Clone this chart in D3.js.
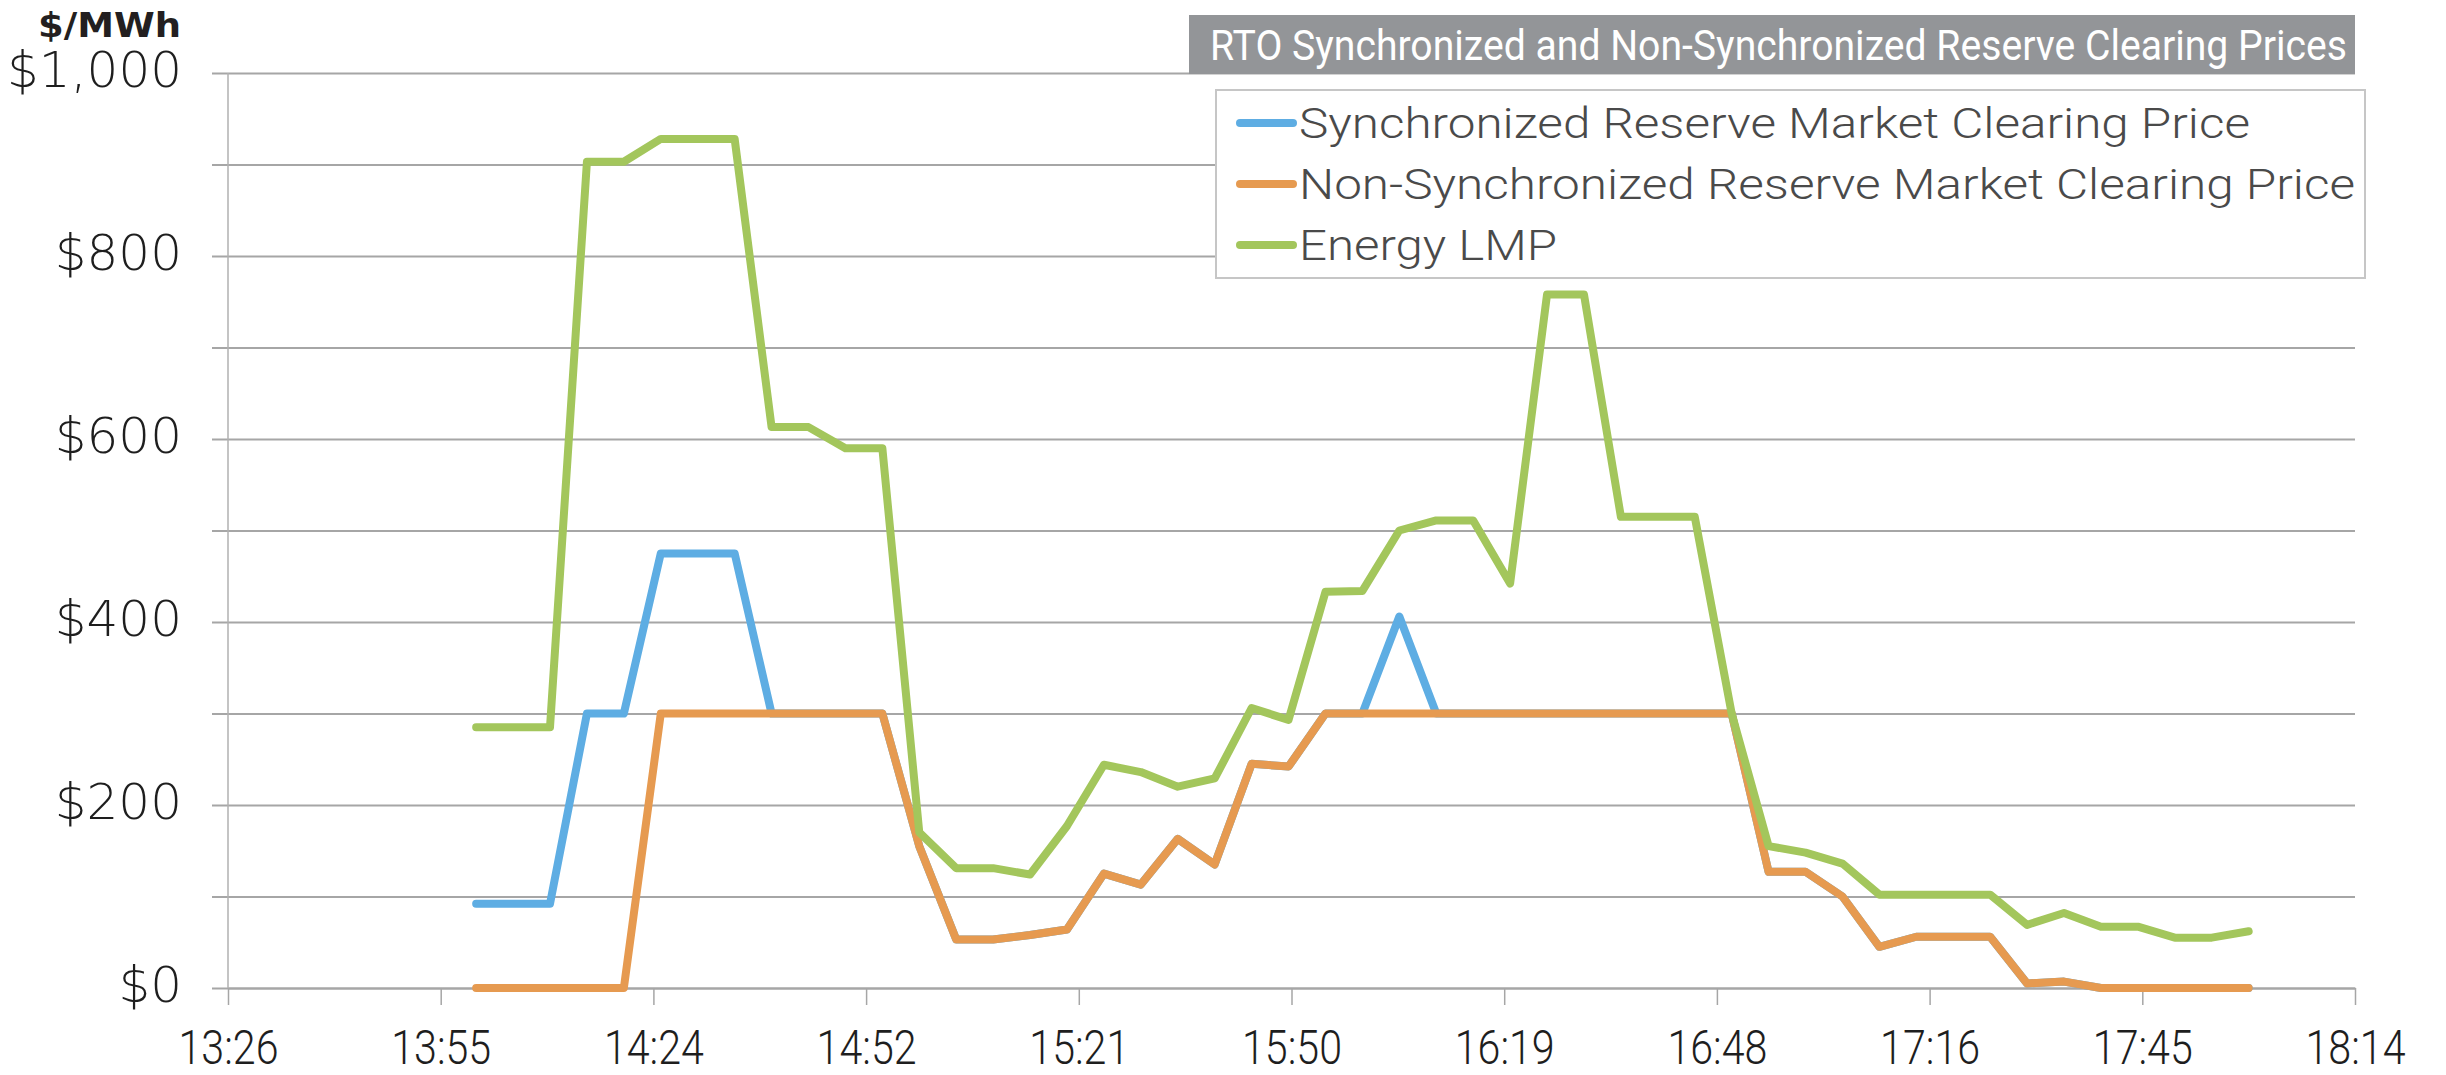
<!DOCTYPE html>
<html>
<head>
<meta charset="utf-8">
<script src="https://cdn.jsdelivr.net/npm/d3@7"></script>
<style>
  body { margin: 0; background: #fff; }
  svg { display: block; }
</style>
</head>
<body>
<svg id="chart" width="2446" height="1075"></svg>
<script>
// 5-minute intervals, 14:00 - 18:00
var times = ["14:00","14:05","14:10","14:15","14:20","14:25","14:30","14:35","14:40","14:45",
             "14:50","14:55","15:00","15:05","15:10","15:15","15:20","15:25","15:30","15:35",
             "15:40","15:45","15:50","15:55","16:00","16:05","16:10","16:15","16:20","16:25",
             "16:30","16:35","16:40","16:45","16:50","16:55","17:00","17:05","17:10","17:15",
             "17:20","17:25","17:30","17:35","17:40","17:45","17:50","17:55","18:00"];

var syncPrice = [92,92,92,300,300,475,475,475,300,300,
                 300,300,155,53,53,58,64,125,113,163,
                 135,245,242,300,300,406,300,300,300,300,
                 300,300,300,300,300,127,127,100,45,56,
                 56,56,5,7,0,0,0,0,0];

var nonSyncPrice = [0,0,0,0,0,300,300,300,300,300,
                    300,300,155,53,53,58,64,125,113,163,
                    135,245,242,300,300,300,300,300,300,300,
                    300,300,300,300,300,127,127,100,45,56,
                    56,56,5,7,0,0,0,0,0];

var energyLmp = [285,285,285,903,903,928,928,928,613,613,
                 590,590,170,131,131,124,177,244,236,220,
                 229,306,293,433,434,500,511,511,442,758,
                 758,515,515,515,300,155,148,136,102,102,
                 102,102,69,82,67,67,55,55,62];

var seriesNames = ["Synchronized Reserve Market Clearing Price",
                   "Non-Synchronized Reserve Market Clearing Price",
                   "Energy LMP"];

var xTickLabels = ["13:26","13:55","14:24","14:52","15:21","15:50","16:19","16:48","17:16","17:45","18:14"];
var yTickLabels = ["$0","$200","$400","$600","$800","$1,000"];

var title = "RTO Synchronized and Non-Synchronized Reserve Clearing Prices";
var yUnit = "$/MWh";

var colors = ["#5eade3", "#e69a50", "#a3c65c"];

var svg = d3.select("#chart");

var plotL = 228, plotR = 2355, plotT = 73, plotB = 988, gridL = 212;

function toMin(s) { var p = s.split(":"); return +p[0] * 60 + +p[1]; }

// excel style date axis: 0.02 day major unit starting at 13:26.4
var xStart = toMin("13:26") + 0.4, xStep = 28.8;
var x = d3.scaleLinear().domain([xStart, xStart + xStep * 10]).range([plotL, plotR]);
var y = d3.scaleLinear().domain([0, 1000]).range([plotB, plotT]);

// grid + y labels
var yAxis = svg.append("g")
  .attr("transform", "translate(" + gridL + ",0)")
  .call(d3.axisLeft(y).ticks(10).tickSize(-(plotR - gridL)).tickPadding(30)
    .tickFormat(function(d) { return d % 200 === 0 ? yTickLabels[d / 200] : ""; }));
yAxis.select(".domain").remove();
yAxis.selectAll(".tick line").attr("stroke", "#a6a6a6").attr("stroke-width", 1.8);
yAxis.selectAll(".tick text")
  .attr("font-family", "DejaVu Sans").attr("font-weight", 200)
  .attr("font-size", 50).attr("fill", "#1e1e1e").attr("dy", "0.26em");

// vertical axis line
svg.append("line")
  .attr("x1", plotL).attr("x2", plotL).attr("y1", plotT).attr("y2", plotB)
  .attr("stroke", "#b0b0b0").attr("stroke-width", 1.5);

// x axis
var xTicks = d3.range(xTickLabels.length).map(function(i) { return xStart + i * xStep; });
var xAxis = svg.append("g")
  .attr("transform", "translate(0," + plotB + ")")
  .call(d3.axisBottom(x).tickValues(xTicks).tickSize(17).tickSizeOuter(0).tickPadding(25)
    .tickFormat(function(d, i) { return xTickLabels[i]; }));
xAxis.select(".domain").attr("stroke", "#a6a6a6").attr("stroke-width", 1.8);
xAxis.selectAll(".tick line").attr("stroke", "#a6a6a6").attr("stroke-width", 1.5);
xAxis.selectAll(".tick text")
  .attr("font-family", "Roboto").attr("font-weight", 300)
  .attr("font-size", 48).attr("fill", "#1e1e1e")
  .attr("textLength", 100).attr("lengthAdjust", "spacingAndGlyphs");

// lines
var line = d3.line()
  .x(function(d, i) { return x(toMin(times[i])); })
  .y(function(d) { return y(d); });

[syncPrice, nonSyncPrice, energyLmp].forEach(function(s, k) {
  svg.append("path")
    .datum(s)
    .attr("d", line)
    .attr("fill", "none")
    .attr("stroke", colors[k])
    .attr("stroke-width", 8)
    .attr("stroke-linejoin", "round")
    .attr("stroke-linecap", "round");
});

// y unit label
svg.append("text")
  .attr("x", 181).attr("y", 37)
  .attr("text-anchor", "end")
  .attr("font-family", "DejaVu Sans").attr("font-weight", 700)
  .attr("font-size", 33).attr("fill", "#231f20")
  .attr("textLength", 143).attr("lengthAdjust", "spacingAndGlyphs")
  .text(yUnit);

// title box
svg.append("rect")
  .attr("x", 1189).attr("y", 15).attr("width", plotR - 1189).attr("height", 59)
  .attr("fill", "#939598");
svg.append("text")
  .attr("x", 1210).attr("y", 60)
  .attr("font-family", "Roboto").attr("font-weight", 400)
  .attr("font-size", 42).attr("fill", "#fff")
  .attr("textLength", 1137).attr("lengthAdjust", "spacingAndGlyphs")
  .text(title);

// legend
var legend = svg.append("g");
legend.append("rect")
  .attr("x", 1216).attr("y", 90).attr("width", 1149).attr("height", 188)
  .attr("fill", "#fff").attr("stroke", "#c6c6c6").attr("stroke-width", 2);

var legendWidths = [951, 1056, 258];
var items = legend.selectAll("g.item").data(seriesNames).enter().append("g")
  .attr("transform", function(d, i) { return "translate(0," + (123 + i * 61) + ")"; });
items.append("line")
  .attr("x1", 1240).attr("x2", 1293)
  .attr("stroke", function(d, i) { return colors[i]; })
  .attr("stroke-width", 8).attr("stroke-linecap", "round");
items.append("text")
  .attr("x", 1299).attr("y", 15)
  .attr("font-family", "Roboto").attr("font-weight", 300)
  .attr("font-size", 42).attr("fill", "#4a4a4a")
  .attr("textLength", function(d, i) { return legendWidths[i]; })
  .attr("lengthAdjust", "spacingAndGlyphs")
  .text(function(d) { return d; });
</script>
</body>
</html>
